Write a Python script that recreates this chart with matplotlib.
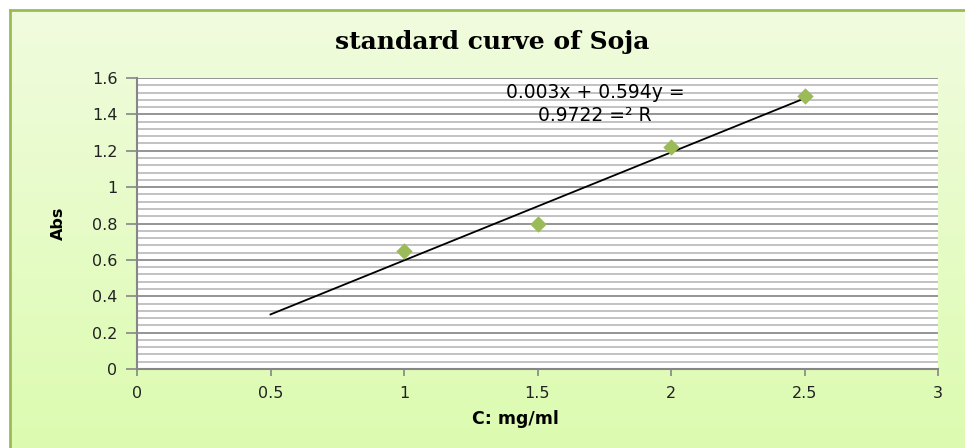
import matplotlib.pyplot as plt
import numpy as np
from matplotlib.ticker import MultipleLocator
from matplotlib.patches import Rectangle

# data
conc = [1.0, 1.5, 2.0, 2.5]
absorb = [0.65, 0.80, 1.22, 1.50]
trend_x = [0.5, 2.5]
eq_line1 = "0.003x + 0.594y ="
eq_line2 = "0.9722 =\u00b2 R"

fig = plt.figure(figsize=(9.65, 4.48), dpi=100)

# background gradient of the chart area
bg = fig.add_axes([0, 0, 1, 1], zorder=-5)
grad = np.linspace(0, 1, 256).reshape(-1, 1)
top = np.array([0.945, 0.988, 0.875])
bot = np.array([0.863, 0.988, 0.690])
img = top + (bot - top) * grad[:, :, None]
bg.imshow(img, aspect="auto", extent=[0, 1, 0, 1])
bg.set_xlim(0, 1)
bg.set_ylim(0, 1)
bg.axis("off")
# white outside, green border on left/top
bg.add_patch(Rectangle((0, 0), 10/965, 1, color="white", zorder=2))
bg.add_patch(Rectangle((0, 1-10/448), 1, 10/448, color="white", zorder=2))
bg.plot([10/965, 10/965], [0, 1-10/448], color="#9bbb59", lw=2, zorder=3)
bg.plot([10/965, 1], [1-10/448, 1-10/448], color="#9bbb59", lw=2, zorder=3)

ax = fig.add_axes([137/965, 1-369/448, 801/965, 291/448])
ax.set_facecolor("white")

slope, icpt = np.polyfit(conc, absorb, 1)
tx = np.array(trend_x)
ax.plot(tx, slope*tx + icpt, color="black", lw=1.3, zorder=3)
ax.scatter(conc, absorb, marker="D", s=70, color="#9bbb59", zorder=4, linewidths=0)

ax.set_xlim(0, 3)
ax.set_ylim(0, 1.6)
ax.xaxis.set_major_locator(MultipleLocator(0.5))
ax.yaxis.set_major_locator(MultipleLocator(0.2))
ax.yaxis.set_minor_locator(MultipleLocator(0.04))
ax.xaxis.set_major_formatter(plt.FuncFormatter(lambda v, p: f"{v:g}"))
ax.yaxis.set_major_formatter(plt.FuncFormatter(lambda v, p: f"{v:g}"))

ax.grid(axis="y", which="major", color="#8c8c8c", lw=1.3, zorder=0)
ax.grid(axis="y", which="minor", color="#bdbdbd", lw=1.3, zorder=0)
ax.set_axisbelow(True)

for s in ["top", "right"]:
    ax.spines[s].set_visible(False)
for s in ["left", "bottom"]:
    ax.spines[s].set_color("#868686")
    ax.spines[s].set_linewidth(1.5)

ax.tick_params(axis="y", which="major", direction="out", length=8, width=1.2,
               color="#868686", labelsize=11.5, labelcolor="#222222", pad=6)
ax.tick_params(axis="y", which="minor", length=0)
ax.tick_params(axis="x", direction="out", length=5, width=1.2,
               color="#868686", labelsize=11.5, labelcolor="#222222", pad=7)

ax.text(1.715, 1.52, eq_line1, ha="center", va="center", fontsize=13.5,
        family="DejaVu Sans", zorder=5)
ax.text(1.715, 1.395, eq_line2, ha="center", va="center", fontsize=13.5,
        family="DejaVu Sans", zorder=5)

ax.set_xlabel("C: mg/ml", fontsize=12.5, fontweight="bold")
ax.xaxis.set_label_coords((515-137)/801, -(410-369)/291)
ax.set_ylabel("Abs", fontsize=11.5, fontweight="bold")
ax.yaxis.set_label_coords(-(137-66)/801, 0.5)

fig.text(492/965, 1-42/448, "standard curve of Soja", ha="center", va="center",
         fontsize=18, fontweight="bold", family="DejaVu Serif")

fig.savefig("out.png", dpi=100)
